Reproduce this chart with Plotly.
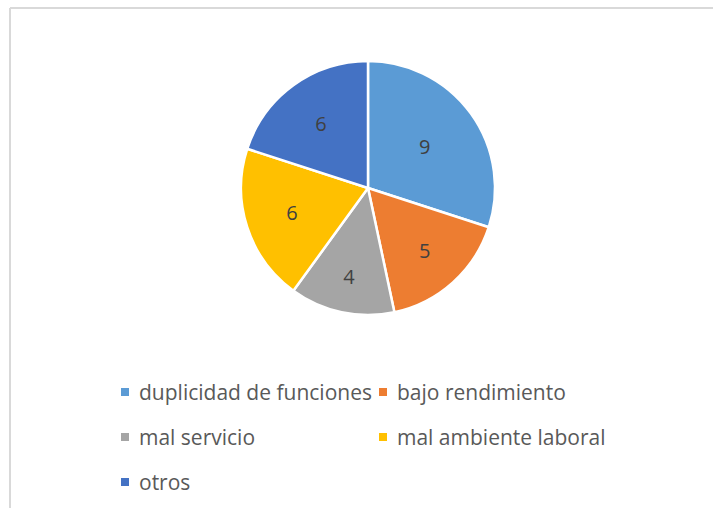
import plotly.graph_objects as go

# data
categories = ["duplicidad de funciones", "bajo rendimiento", "mal servicio",
              "mal ambiente laboral", "otros"]
counts = [9, 5, 4, 6, 6]
slice_colors = ["#5B9BD5", "#ED7D31", "#A5A5A5", "#FFC000", "#4472C4"]

W, H = 713, 508
FONT = "Open Sans, sans-serif"

# legend grid (pixels from top-left), Excel-style two-column legend
legend_cols_x = [121, 379]
legend_rows_y = [392, 437, 482]
sq = 8


def px(x):
    return x / W


def py(y):
    return 1 - y / H


fig = go.Figure()

fig.add_trace(
    go.Pie(
        labels=categories,
        values=counts,
        sort=False,
        direction="clockwise",
        rotation=0,
        marker=dict(colors=slice_colors, line=dict(color="white", width=2.5)),
        textinfo="value",
        textposition="inside",
        insidetextorientation="horizontal",
        textfont=dict(family=FONT, size=20, color="#404040"),
        domain=dict(x=[px(241), px(495)], y=[py(315), py(61)]),
        hoverinfo="label+value",
        showlegend=False,
    )
)

shapes = [
    # chart area frame (cropped at right and bottom in the reference)
    dict(type="line", xref="paper", yref="paper",
         x0=px(10), x1=1.0, y0=py(8), y1=py(8),
         line=dict(color="#D9D9D9", width=2)),
    dict(type="line", xref="paper", yref="paper",
         x0=px(10), x1=px(10), y0=0, y1=py(8),
         line=dict(color="#D9D9D9", width=2)),
]
annotations = []

# legend entries laid out row by row, two per row
for i, (name, color) in enumerate(zip(categories, slice_colors)):
    cx = legend_cols_x[i % 2]
    cy = legend_rows_y[i // 2]
    shapes.append(dict(type="rect", xref="paper", yref="paper",
                       x0=px(cx), x1=px(cx + sq),
                       y0=py(cy + sq / 2), y1=py(cy - sq / 2),
                       fillcolor=color, line=dict(width=0)))
    annotations.append(dict(text=name, xref="paper", yref="paper",
                            x=px(cx + 16), y=py(cy), xanchor="left",
                            yanchor="middle", showarrow=False,
                            font=dict(family=FONT, size=21, color="#595959")))

fig.update_layout(
    width=W,
    height=H,
    margin=dict(l=0, r=0, t=0, b=0),
    paper_bgcolor="white",
    plot_bgcolor="white",
    font=dict(family=FONT, color="#595959"),
    showlegend=False,
    shapes=shapes,
    annotations=annotations,
)

fig.write_html("out.html", config={"displayModeBar": False},
               post_script="document.body.style.margin='0';")
